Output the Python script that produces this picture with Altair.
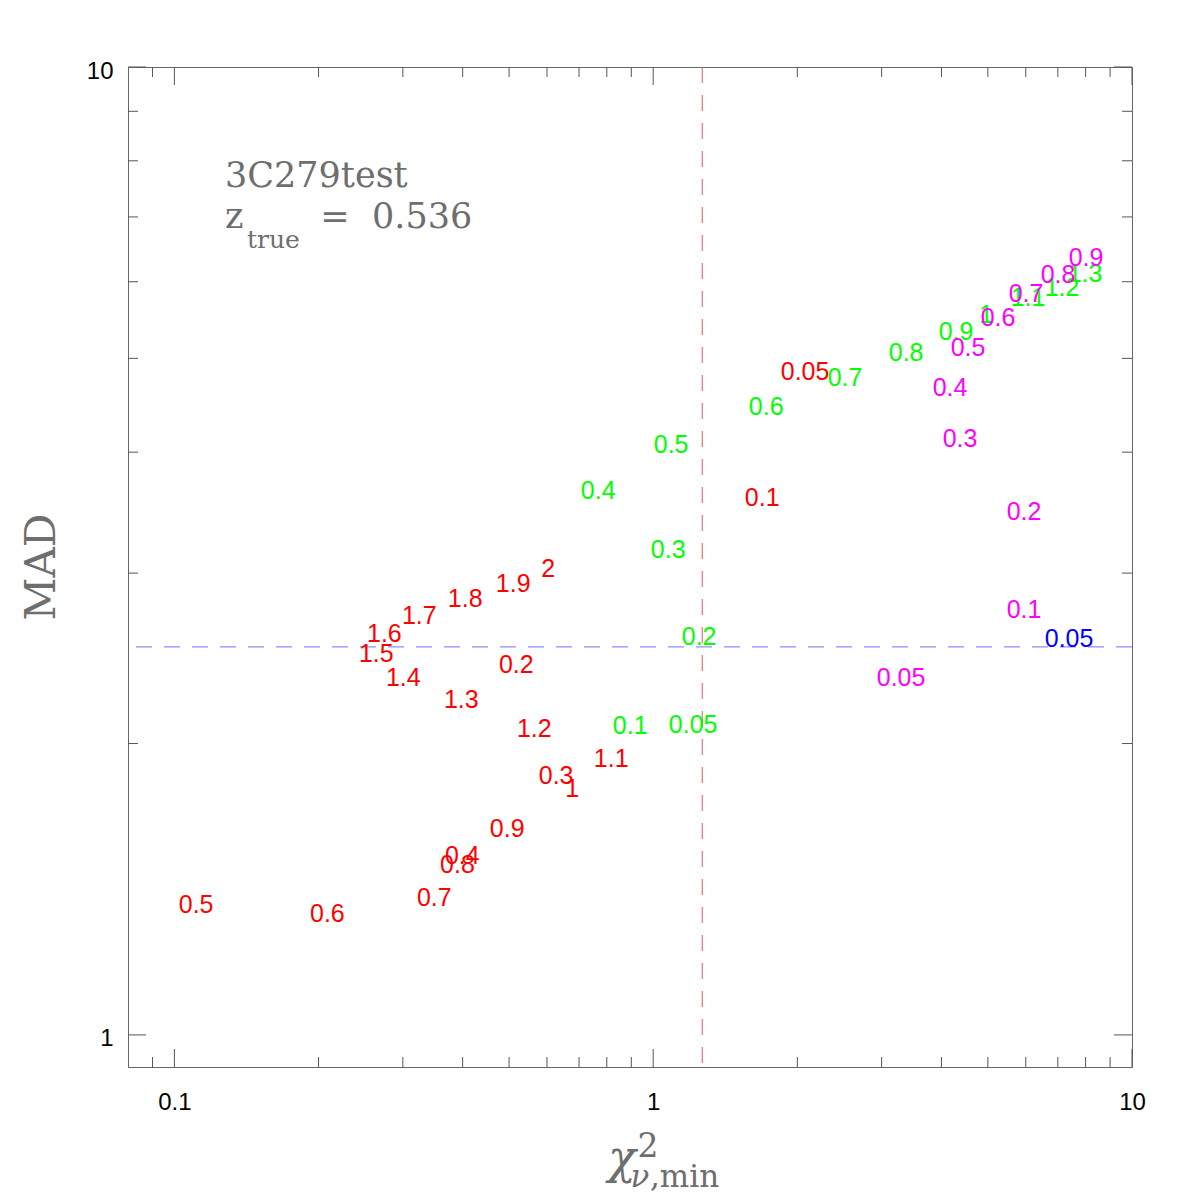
import altair as alt
import pandas as pd

# ---- label points: each text is a parameter value placed at (chi2_min, MAD) ----
red_labels = ["0.05", "0.1", "0.2", "0.3", "0.4", "0.5", "0.6", "0.7", "0.8", "0.9", "1",
              "1.1", "1.2", "1.3", "1.4", "1.5", "1.6", "1.7", "1.8", "1.9", "2"]
red_chi2 = [2.076, 1.689, 0.5176, 0.627, 0.3993, 0.111, 0.2087, 0.349, 0.390, 0.4955, 0.6776,
            0.8172, 0.5644, 0.3974, 0.3007, 0.264, 0.2745, 0.3247, 0.405, 0.5101, 0.6036]
red_mad = [4.853, 3.595, 2.416, 1.856, 1.535, 1.366, 1.337, 1.389, 1.502, 1.636, 1.799,
           1.932, 2.076, 2.224, 2.343, 2.481, 2.602, 2.716, 2.828, 2.931, 3.037]

green_labels = ["0.05", "0.1", "0.2", "0.3", "0.4", "0.5", "0.6", "0.7", "0.8", "0.9", "1",
                "1.1", "1.2", "1.3"]
green_chi2 = [1.212, 0.8954, 1.247, 1.075, 0.7675, 1.09, 1.722, 2.516, 3.375, 4.291, 4.958,
              6.065, 7.143, 7.98]
green_mad = [2.096, 2.09, 2.584, 3.177, 3.656, 4.078, 4.465, 4.784, 5.077, 5.337, 5.557,
             5.787, 5.926, 6.127]

magenta_labels = ["0.05", "0.1", "0.2", "0.3", "0.4", "0.5", "0.6", "0.7", "0.8", "0.9"]
magenta_chi2 = [3.294, 5.949, 5.949, 4.374, 4.169, 4.546, 5.252, 6.007, 7.006, 8.017]
magenta_mad = [2.343, 2.755, 3.478, 4.137, 4.671, 5.137, 5.517, 5.841, 6.112, 6.364]

blue_labels = ["0.05"]
blue_chi2 = [7.388]
blue_mad = [2.571]

series_names = ["red", "green", "magenta", "blue"]
series_colors = ["#ff0000", "#00ff00", "#ff00ff", "#0000ff"]

# reference levels (dashed)
mad_ref = [2.517]
chi2_ref = [1.266]

# axis tick positions
x_major = [0.1, 1, 10]
x_minor = [0.09, 0.2, 0.3, 0.4, 0.5, 0.6, 0.7, 0.8, 0.9, 2, 3, 4, 5, 6, 7, 8, 9]
y_major = [1, 10]
y_minor = [2, 3, 4, 5, 6, 7, 8, 9]

W, H = 1004, 1000
MAJOR, MINOR = 18, 10
TICK_COLOR = "#555555"
TITLE_GRAY = "#6e6e6e"
SERIF = "DejaVu Serif"
SANS = "Liberation Sans"

rows = []
for name, labs, xs, ys in [
    ("red", red_labels, red_chi2, red_mad),
    ("green", green_labels, green_chi2, green_mad),
    ("magenta", magenta_labels, magenta_chi2, magenta_mad),
    ("blue", blue_labels, blue_chi2, blue_mad),
]:
    for lab, xv, yv in zip(labs, xs, ys):
        rows.append({"series": name, "label": lab, "chi2": xv, "mad": yv})
points = pd.DataFrame(rows)

xscale = alt.Scale(type="log", domain=[0.08, 10], nice=False, zero=False)
yscale = alt.Scale(type="log", domain=[0.9265, 10], nice=False, zero=False)

axis_common = dict(title=None, format="~g", labelFlush=False, labelOverlap=False,
                   ticks=False, tickSize=0, domain=False, grid=False,
                   labelFont=SANS, labelFontSize=24, labelColor="#000000")
xaxis = alt.Axis(values=x_major, labelPadding=23, **axis_common)
yaxis = alt.Axis(values=y_major, labelPadding=15, labelOffset=4, **axis_common)

X = alt.X("chi2:Q", scale=xscale, axis=xaxis)
Y = alt.Y("mad:Q", scale=yscale, axis=yaxis)

labels = alt.Chart(points).mark_text(
    font=SANS, fontSize=25, align="center", baseline="middle", dy=1
).encode(
    x=X, y=Y, text="label:N",
    color=alt.Color("series:N", scale=alt.Scale(domain=series_names, range=series_colors),
                    legend=None),
)

hline = alt.Chart(pd.DataFrame({"mad": mad_ref})).mark_rule(
    color="#7070ff", strokeWidth=1, strokeDash=[16, 12]
).encode(y=Y)
vline = alt.Chart(pd.DataFrame({"chi2": chi2_ref})).mark_rule(
    color="#e05a5a", strokeWidth=1, strokeDash=[16, 12]
).encode(x=X)

# inward ticks on all four sides
def xticks(vals, length):
    d = pd.DataFrame({"chi2": vals})
    bottom = alt.Chart(d).mark_rule(color=TICK_COLOR, strokeWidth=1).encode(
        x=X, y=alt.value(H), y2=alt.value(H - length))
    top = alt.Chart(d).mark_rule(color=TICK_COLOR, strokeWidth=1).encode(
        x=X, y=alt.value(0), y2=alt.value(length))
    return [bottom, top]

def yticks(vals, length):
    d = pd.DataFrame({"mad": vals})
    left = alt.Chart(d).mark_rule(color=TICK_COLOR, strokeWidth=1).encode(
        y=Y, x=alt.value(0), x2=alt.value(length))
    right = alt.Chart(d).mark_rule(color=TICK_COLOR, strokeWidth=1).encode(
        y=Y, x=alt.value(W), x2=alt.value(W - length))
    return [left, right]

ticks = xticks(x_major, MAJOR) + xticks(x_minor, MINOR) + yticks(y_major, MAJOR) + yticks(y_minor, MINOR)

def txt(s, x, y, size, align="left", angle=0, italic=False, font=SERIF, color=TITLE_GRAY,
        baseline="alphabetic"):
    kw = dict(font=font, fontSize=size, align=align, baseline=baseline, color=color)
    if angle:
        kw["angle"] = angle
    if italic:
        kw["fontStyle"] = "italic"
    return alt.Chart(pd.DataFrame({"t": [s]})).mark_text(**kw).encode(
        text="t:N", x=alt.value(x), y=alt.value(y))

# annotation block
annot = [
    txt("3C279test", 97, 120, 35),
    txt("z", 97, 161, 35),
    txt("true", 119, 181, 25),
    txt("=", 207, 161, 35, align="center"),
    txt("0.536", 244, 161, 35),
]

# axis titles
titles = [
    txt("MAD", -86, 500, 42, align="center", angle=270, baseline="middle"),
    txt("χ", 494, 1106, 46, align="center", italic=True),
    txt("2", 520, 1090, 33, align="center"),
    txt("ν", 512, 1120, 31, align="center", italic=True),
    txt(",min", 522, 1120, 31),
]

chart = alt.layer(
    hline, vline, *ticks, labels, *annot, *titles
).properties(
    width=W, height=H,
    background="white",
    autosize=alt.AutoSizeParams(type="none"),
    padding={"left": 128, "top": 67, "right": 64, "bottom": 129},
).configure_view(
    stroke="#666666", strokeWidth=1
)

chart.save("out.html", embed_options={"renderer": "svg", "actions": False})
